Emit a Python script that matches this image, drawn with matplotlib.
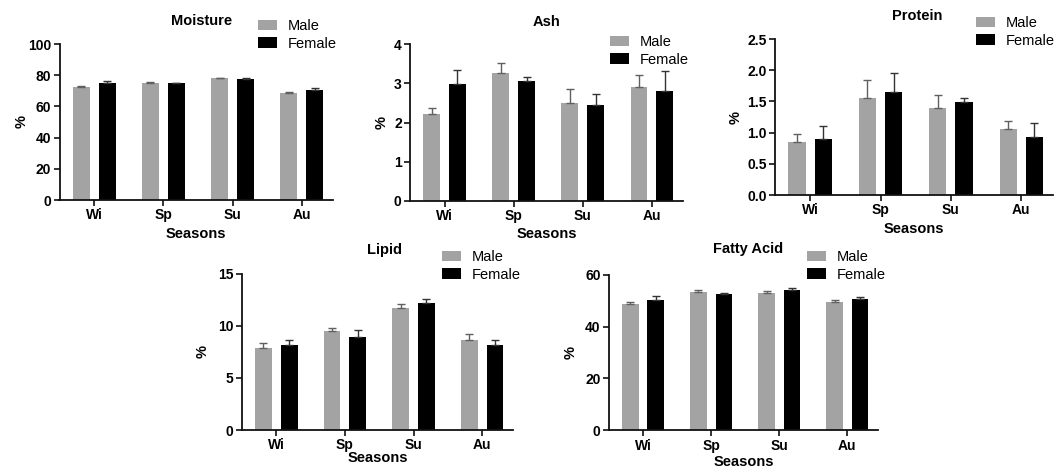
import numpy as np
import matplotlib
matplotlib.use("Agg")
import matplotlib.pyplot as plt

plt.rcParams['font.family'] = ['Liberation Sans', 'DejaVu Sans']

seasons = ['Wi', 'Sp', 'Su', 'Au']

moisture_male = [72.2, 75.0, 78.0, 68.6]
moisture_male_err = [0.9, 0.4, 0.5, 0.4]
moisture_female = [75.0, 74.8, 77.4, 70.8]
moisture_female_err = [1.0, 0.4, 0.6, 0.7]

ash_male = [2.21, 3.27, 2.51, 2.91]
ash_male_err = [0.17, 0.25, 0.36, 0.31]
ash_female = [2.98, 3.06, 2.45, 2.80]
ash_female_err = [0.37, 0.10, 0.29, 0.51]

protein_male = [0.845, 1.555, 1.40, 1.06]
protein_male_err = [0.13, 0.29, 0.21, 0.13]
protein_female = [0.90, 1.65, 1.495, 0.925]
protein_female_err = [0.20, 0.31, 0.055, 0.235]

lipid_male = [7.9, 9.53, 11.68, 8.6]
lipid_male_err = [0.48, 0.29, 0.44, 0.6]
lipid_female = [8.16, 8.95, 12.22, 8.16]
lipid_female_err = [0.44, 0.62, 0.35, 0.44]

fatty_male = [48.6, 53.3, 52.9, 49.5]
fatty_male_err = [0.7, 0.9, 0.7, 0.6]
fatty_female = [50.1, 52.7, 54.0, 50.6]
fatty_female_err = [1.7, 0.4, 0.7, 0.8]

W, H = 1056, 468
MALE_COLOR = '#a3a3a3'
FEMALE_COLOR = '#000000'

# panel layout in pixels: left, right, top, bottom of the plotting area
panels = [
    dict(title='Moisture', box=(59.5, 333, 44, 200), ylim=100, yticks=[0, 20, 40, 60, 80, 100],
         fmt='{:.0f}', male=moisture_male, male_err=moisture_male_err,
         female=moisture_female, female_err=moisture_female_err,
         title_xy=(202, 21), leg_xy=(258, 27), ylab_x=22, xlab_y=233),
    dict(title='Ash', box=(410, 683, 44.3, 201), ylim=4, yticks=[0, 1, 2, 3, 4],
         fmt='{:.0f}', male=ash_male, male_err=ash_male_err,
         female=ash_female, female_err=ash_female_err,
         title_xy=(547, 22), leg_xy=(610, 43), ylab_x=382, xlab_y=233),
    dict(title='Protein', box=(775, 1053, 39, 195), ylim=2.5, yticks=[0, 0.5, 1.0, 1.5, 2.0, 2.5],
         fmt='{:.1f}', male=protein_male, male_err=protein_male_err,
         female=protein_female, female_err=protein_female_err,
         title_xy=(917, 16), leg_xy=(976, 24), ylab_x=736, xlab_y=228),
    dict(title='Lipid', box=(242, 513, 273.7, 430), ylim=15, yticks=[0, 5, 10, 15],
         fmt='{:.0f}', male=lipid_male, male_err=lipid_male_err,
         female=lipid_female, female_err=lipid_female_err,
         title_xy=(384, 250), leg_xy=(442, 258), ylab_x=203, xlab_y=457),
    dict(title='Fatty Acid', box=(609, 878, 274.7, 430.3), ylim=60, yticks=[0, 20, 40, 60],
         fmt='{:.0f}', male=fatty_male, male_err=fatty_male_err,
         female=fatty_female, female_err=fatty_female_err,
         title_xy=(748, 249), leg_xy=(807, 258), ylab_x=571, xlab_y=461),
]

fig = plt.figure(figsize=(W / 100, H / 100), dpi=100)

x = np.arange(len(seasons))
bar_w = 0.245
offset = 0.187

for p in panels:
    l, r, t, b = p['box']
    ax = fig.add_axes([l / W, 1 - b / H, (r - l) / W, (b - t) / H])

    ax.bar(x - offset, p['male'], bar_w, color=MALE_COLOR, label='Male',
           yerr=[np.zeros(4), p['male_err']], capsize=3.2,
           error_kw=dict(ecolor='#606060', elinewidth=1.0, capthick=1.0))
    ax.bar(x + offset, p['female'], bar_w, color=FEMALE_COLOR, label='Female',
           yerr=[np.zeros(4), p['female_err']], capsize=3.2,
           error_kw=dict(ecolor='#333333', elinewidth=1.0, capthick=1.0))

    ax.set_xlim(-0.5, 3.45)
    ax.set_ylim(0, p['ylim'])
    ax.set_yticks(p['yticks'])
    ax.set_yticklabels([p['fmt'].format(v) for v in p['yticks']])
    ax.set_xticks(x)
    ax.set_xticklabels(seasons)

    for side in ('top', 'right'):
        ax.spines[side].set_visible(False)
    for side in ('left', 'bottom'):
        ax.spines[side].set_linewidth(1.3)
        ax.spines[side].set_color('#111111')
    ax.tick_params(axis='both', direction='out', length=4, width=1.2, color='#111111',
                   labelsize=10, pad=2)
    for lab in ax.get_xticklabels() + ax.get_yticklabels():
        lab.set_fontweight('bold')

    # label anchors are the text edges, so shift from the centre positions
    ax.set_ylabel('%', fontsize=10.5, fontweight='bold')
    ax.yaxis.set_label_coords((p['ylab_x'] + 7 - l) / (r - l), 0.5)
    ax.set_xlabel('Seasons', fontsize=10.5, fontweight='bold')
    ax.xaxis.set_label_coords(0.5, -(p['xlab_y'] - 6 - b) / (b - t))

    tx, ty = p['title_xy']
    fig.text(tx / W, 1 - ty / H, p['title'], ha='center', va='center',
             fontsize=10.5, fontweight='bold')

    lx, ly = p['leg_xy']
    ax.legend(loc='upper left', bbox_to_anchor=(lx / W, 1 - (ly - 8) / H),
              bbox_transform=fig.transFigure, frameon=False, fontsize=10.5,
              handlelength=1.3, handleheight=0.7, handletextpad=0.75,
              labelspacing=0.25, borderpad=0, borderaxespad=0)

fig.savefig('out.png', dpi=100)
